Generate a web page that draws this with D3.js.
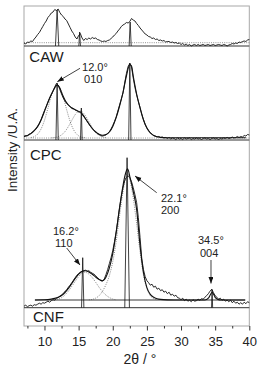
<!DOCTYPE html>
<html><head><meta charset="utf-8">
<script src="https://cdn.jsdelivr.net/npm/d3@7"></script>
<style>body{margin:0;background:#fff}svg{display:block}text{font-family:"Liberation Sans",Arial,sans-serif}</style>
</head><body><svg id="c" width="266" height="371"></svg>
<script>
// ---------- DATA ----------
const twoThetaStart = 7.0, twoThetaStep = 0.25;   // grid of the measured patterns
const xTicks = [10, 15, 20, 25, 30, 35, 40];
const xMinorTicks = [7.5, 12.5, 17.5, 22.5, 27.5, 32.5, 37.5];
const panelNames = ["CAW", "CPC", "CNF"];

const cawData = [3.0,2.0,4.0,3.5,5.0,4.5,7.0,9.0,
 11.5,13.5,16.5,19.5,22.5,25.0,28.5,30.5,
 33.0,34.0,36.5,35.5,37.0,33.5,31.0,29.5,
 27.0,25.5,22.0,18.5,15.0,12.5,9.0,7.0,
 10.5,12.5,8.0,5.5,7.5,6.5,8.0,7.0,
 8.5,7.5,8.0,6.5,6.0,5.0,4.5,5.0,
 4.5,5.5,6.0,7.5,9.0,11.0,12.5,15.0,
 17.0,19.5,21.0,22.0,23.5,23.0,24.5,27.5,
 26.0,25.0,22.5,20.5,18.0,16.0,14.0,12.0,
 11.0,9.5,9.0,7.5,8.0,6.5,7.0,5.5,
 6.0,5.0,5.5,4.0,4.5,4.5,3.5,4.0,
 3.0,3.5,2.5,3.0,1.5,2.5,1.0,2.0,
 0.5,1.5,0.0,1.0,1.5,0.5,1.5,0.5,
 1.0,1.5,0.5,1.0,1.5,0.5,1.0,1.5,
 0.5,1.0,1.5,1.0,0.5,1.5,1.0,0.0,
 1.0,1.5,2.5,2.0,3.0,2.5,4.0,3.5,
 4.5,5.0,4.5,6.0,6.5];

const cpcData = [3.5,4.5,4.0,6.0,6.5,8.0,9.5,11.0,
 13.5,16.5,20.5,25.0,29.5,33.5,37.5,42.0,
 45.5,49.0,53.0,56.5,55.0,50.5,46.0,42.0,
 39.0,36.5,35.0,33.5,32.0,31.5,30.0,29.5,
 28.0,28.5,26.5,23.5,21.0,18.5,16.0,13.5,
 11.5,9.5,8.5,6.5,5.5,4.5,4.0,4.5,
 5.0,6.5,8.0,11.0,14.5,18.5,23.0,29.0,
 35.0,41.0,47.0,57.0,66.5,73.5,76.5,73.0,
 62.0,52.5,45.0,38.5,32.5,26.0,20.5,15.5,
 12.0,9.5,7.5,6.0,4.5,4.0,3.0,3.5,
 2.5,3.0,2.0,2.5,1.5,2.5,1.0,2.0,
 1.5,0.5,2.0,1.0,1.5,0.5,2.0,1.0,
 1.5,2.0,0.5,1.5,1.0,2.0,1.0,1.5,
 0.5,1.5,2.0,1.0,1.5,0.5,1.5,2.0,
 1.0,1.5,0.5,1.5,1.0,2.0,1.5,2.5,
 1.5,2.0,3.0,2.0,2.5,3.5,2.5,3.5,
 3.0,4.5,4.0,5.5,5.0];

const cnfData = [1.5,2.5,1.0,2.0,2.5,1.5,3.0,2.5,
 3.5,4.5,3.5,5.0,4.5,5.5,6.5,5.5,
 7.0,8.0,7.5,9.5,10.0,11.5,12.5,14.5,
 16.0,18.0,20.5,22.5,25.0,27.5,30.0,32.5,
 34.0,35.5,36.5,37.0,37.5,36.5,37.0,35.5,
 34.5,33.5,32.0,30.0,28.5,27.0,26.5,28.5,
 33.0,38.0,44.0,50.0,57.0,66.0,76.0,88.0,
 100.0,111.0,120.0,127.0,130.5,132.0,130.0,126.0,
 120.0,113.0,105.0,90.0,70.0,49.0,38.0,31.0,
 27.0,25.0,22.5,23.5,20.5,21.5,18.5,19.5,
 17.0,18.0,15.5,16.5,14.0,15.5,12.5,13.5,
 11.5,12.5,10.0,9.5,8.0,9.5,7.0,8.5,
 6.5,7.5,6.0,8.0,6.5,7.0,8.5,7.5,
 9.0,8.5,10.5,12.0,14.0,16.5,18.5,15.0,
 12.0,10.5,8.5,9.5,7.5,8.5,6.5,7.5,
 6.0,7.5,5.0,6.5,4.5,5.5,3.5,5.0,
 3.5,5.5,4.0,6.0,5.0];

// fitted sums [2theta, intensity]
const cpcFit = [[7,3.6],[7.5,4.6],[8,6.4],[8.5,9.4],[9,13.6],[9.5,20],[10,28.6],[10.5,37.8],[11,45.6],[11.5,52],[11.85,55],[12.25,52],[12.5,47.5],[13,40],[13.5,35],[14,32],[14.5,30.2],[15,28.6],[15.5,26],[16,21.5],[16.5,16.2],[17,11.5],[17.5,8],[18,5.8],[18.5,4.8],[19,5.4],[19.5,8],[20,13.6],[20.5,22.4],[21,34],[21.5,47.5],[22,64],[22.5,75.5],[22.75,74],[23,64],[23.5,46],[24,32],[24.5,20],[25,12],[25.5,7],[26,4.5],[26.5,3.2],[27,2.6],[28,2.2],[39.5,2.2]];
const cnfFit = [[8.6,7.7],[10,7.9],[11,8.6],[11.5,9.3],[12,10.4],[12.5,12.2],[13,15.2],[13.5,19.3],[14,24.2],[14.5,29.3],[15,33.6],[15.5,36.3],[16,37.0],[16.5,35.8],[17,33.4],[17.5,30.6],[18,28.2],[18.5,27],[19,30.5],[19.5,39.5],[20,54],[20.5,75],[21,100],[21.5,122],[21.75,131],[22,137],[22.15,139],[22.3,137],[22.5,131],[22.75,124],[23,116],[23.5,98],[24,62],[24.5,35],[25,20],[25.5,13.3],[26,10.4],[26.5,9],[27,8.3],[28,7.8],[29,7.7],[33.5,7.7],[34,9.5],[34.3,13],[34.55,15.5],[34.8,13],[35.1,9.5],[35.6,7.8],[36,7.7],[39.4,7.7]];

// fitted components (dotted)
const cpcComp1 = [[8,2.5],[8.5,3.3],[9,5.9],[9.5,11],[10,19.7],[10.5,31.6],[11,44.1],[11.5,52.9],[11.85,55],[12,54.6],[12.5,48.3],[13,36.7],[13.5,24.2],[14,14.1],[14.5,7.6],[15,4.2],[15.5,2.75],[16,2.2]];
const cpcComp2 = [[11,2.15],[11.5,2.5],[12,3.3],[12.5,5.1],[13,8.4],[13.5,13.5],[14,19.6],[14.5,25.4],[15,28.7],[15.2,29],[15.5,28.3],[16,24.3],[16.5,18.4],[17,12.3],[17.5,7.6],[18,4.7],[18.5,3.1],[19,2.4]];
const cnfComp1 = [[11.5,7.7],[12,8.6],[12.5,10],[13,12.8],[13.5,16.6],[14,21.4],[14.5,26.4],[15,31],[15.5,34.6],[15.8,35.5],[16,35.4],[16.5,33.6],[17,30.1],[17.5,25.4],[18,20.4],[18.5,16],[19,12.6],[19.5,10.2],[20,8.7],[20.5,7.9]];
const cnfComp2 = [[16.5,7.8],[17,8.3],[17.5,9.6],[18,12],[18.5,16.5],[19,23],[19.5,32],[20,46],[20.5,66],[21,92],[21.5,116],[22,133],[22.15,135],[22.5,128],[23,110],[23.5,84],[24,56],[24.5,33],[25,19],[25.5,12],[26,9],[26.5,7.9]];

// background levels
const cawBg = 3.3, cpcBg = 2.0, cnfBg = 7.7;

// peak sticks: centre, height, half-width (2theta)
const cawPeaks = [11.85, 15.15, 22.55], cawPeakH = [36, 14, 24], cawPeakW = [0.24, 0.12, 0.15];
const cpcPeaks = [11.85, 15.4, 22.5], cpcPeakH = [57, 32, 77], cpcPeakW = [0.17, 0.12, 0.17];
const cnfPeaks = [15.6, 22.1, 34.55], cnfPeakH = [50, 150, 18], cnfPeakW = [0.17, 0.34, 0.08];

// annotations
const annText = [["12.0°", "010"], ["22.1°", "200"], ["16.2°", "110"], ["34.5°", "004"]];
const annTip = [[11.88, 58.3], [23.26, 131.7], [15.2, 42.7], [34.39, 24.2]];
const annPanel = ["CPC", "CNF", "CNF", "CNF"];

// ---------- DRAW ----------
const svg = d3.select("#c");
const x = d3.scaleLinear().domain([7, 40]).range([24, 249.3]);
const y = d3.scaleLinear().domain([0, 320]).range([326, 6]);
const offset = {CAW: 280, CPC: 186, CNF: 18.3};
const grid = arr => arr.map((v, i) => [twoThetaStart + i * twoThetaStep, v]);

const defs = svg.append("defs");
defs.append("marker").attr("id", "ah").attr("markerUnits", "userSpaceOnUse")
  .attr("markerWidth", 7).attr("markerHeight", 6).attr("refX", 6.5).attr("refY", 2.5)
  .attr("orient", "auto").append("path").attr("d", "M0,0L6.5,2.5L0,5Z").attr("fill", "#111");

const line = off => d3.line().x(d => x(d[0])).y(d => y(off + d[1]));

const panels = [
  {name: "CAW", data: cawData, fit: null, comps: [], bg: cawBg, bgStyle: "dot", peaks: cawPeaks, ph: cawPeakH, pw: cawPeakW, lx: 29.3, ly: 62.3},
  {name: "CPC", data: cpcData, fit: cpcFit, comps: [cpcComp1, cpcComp2], bg: cpcBg, bgStyle: "dot", peaks: cpcPeaks, ph: cpcPeakH, pw: cpcPeakW, lx: 30, ly: 160},
  {name: "CNF", data: cnfData, fit: cnfFit, comps: [cnfComp1, cnfComp2], bg: cnfBg, bgStyle: "solid", peaks: cnfPeaks, ph: cnfPeakH, pw: cnfPeakW, lx: 33, ly: 322}
];

// frame
svg.append("rect").attr("x", 24).attr("y", 6).attr("width", 225.3).attr("height", 320)
  .attr("fill", "none").attr("stroke", "#a8a8a8").attr("stroke-width", 1);

panels.forEach(p => {
  const off = offset[p.name];
  const g = svg.append("g");
  g.append("line").attr("x1", x(7)).attr("x2", x(40)).attr("y1", y(off)).attr("y2", y(off))
    .attr("stroke", "#333").attr("stroke-width", 1);
  if (p.bgStyle === "dot") {
    g.append("line").attr("x1", x(7)).attr("x2", x(40)).attr("y1", y(off + p.bg)).attr("y2", y(off + p.bg))
      .attr("stroke", "#666").attr("stroke-width", 0.7).attr("stroke-dasharray", "1,1.2");
  } else {
    g.append("line").attr("x1", x(8.6)).attr("x2", x(39.4)).attr("y1", y(off + p.bg)).attr("y2", y(off + p.bg))
      .attr("stroke", "#222").attr("stroke-width", 0.9);
  }
  p.comps.forEach(c => g.append("path").attr("d", line(off).curve(d3.curveMonotoneX)(c))
    .attr("fill", "none").attr("stroke", "#555").attr("stroke-width", 0.7).attr("stroke-dasharray", "1,1.2"));
  p.peaks.forEach((c, i) => {
    const pts = [[c - p.pw[i], 0], [c, p.ph[i]], [c + p.pw[i], 0]];
    g.append("path").attr("d", line(off)(pts)).attr("fill", "none").attr("stroke", "#111").attr("stroke-width", 0.8);
  });
  if (p.fit) g.append("path").attr("d", line(off).curve(d3.curveMonotoneX)(p.fit))
    .attr("fill", "none").attr("stroke", "#111").attr("stroke-width", 1.1);
  g.append("path").attr("d", line(off)(grid(p.data)))
    .attr("fill", "none").attr("stroke", "#111").attr("stroke-width", 0.9).attr("stroke-linejoin", "round");
  g.append("text").attr("x", p.lx).attr("y", p.ly).attr("font-size", 15).attr("fill", "#1a1a1a").text(p.name);
});

// annotations (tail / text offsets in px from arrow tip)
const annTail = [[22.7, -13.4], [21.7, 16.7], [-13.3, -17], [0, -23.5]];
const annT1 = [[24.7, -11.2], [26, 25.5], [-27, -30.5], [-13, -40]];
const annT2 = [[26.7, 1.3], [26, 38], [-25, -18], [-11, -27]];
annText.forEach((t, i) => {
  const off = offset[annPanel[i]];
  const tx = x(annTip[i][0]), ty = y(off + annTip[i][1]);
  svg.append("line").attr("x1", tx + annTail[i][0]).attr("y1", ty + annTail[i][1])
    .attr("x2", tx).attr("y2", ty).attr("stroke", "#111").attr("stroke-width", 0.8).attr("marker-end", "url(#ah)");
  svg.append("text").attr("x", tx + annT1[i][0]).attr("y", ty + annT1[i][1]).attr("font-size", 11).attr("fill", "#222").text(t[0]);
  svg.append("text").attr("x", tx + annT2[i][0]).attr("y", ty + annT2[i][1]).attr("font-size", 11).attr("fill", "#222").text(t[1]);
});

// x axis
const ax = svg.append("g").attr("transform", "translate(0,326)")
  .call(d3.axisBottom(x).tickValues(xTicks).tickSize(4.5).tickPadding(6).tickFormat(d3.format("d")));
ax.select(".domain").remove();
ax.selectAll("line").attr("stroke", "#333");
ax.selectAll("text").attr("font-size", 13).attr("fill", "#222").attr("font-family", '"Liberation Sans",Arial,sans-serif');
const axm = svg.append("g").attr("transform", "translate(0,326)")
  .call(d3.axisBottom(x).tickValues(xMinorTicks).tickSize(2.5).tickFormat(""));
axm.select(".domain").remove();
axm.selectAll("line").attr("stroke", "#333");

// axis titles
svg.append("text").attr("x", 140).attr("y", 364).attr("text-anchor", "middle").attr("font-size", 14).attr("fill", "#222").text("2θ / °");
svg.append("text").attr("transform", "translate(17,150) rotate(-90)").attr("text-anchor", "middle")
  .attr("font-size", 13.5).attr("fill", "#222").text("Intensity /U.A.");
</script></body></html>
